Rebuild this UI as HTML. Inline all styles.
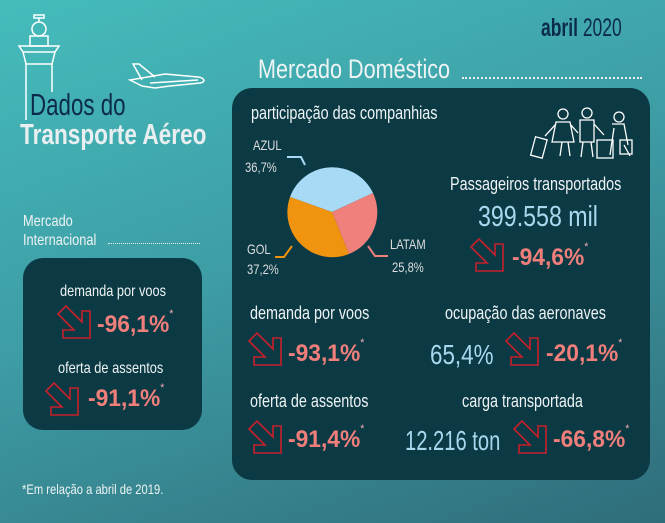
<!DOCTYPE html>
<html><head><meta charset="utf-8"><style>
*{margin:0;padding:0}
body{width:665px;height:523px;overflow:hidden;position:relative;background:linear-gradient(160deg,#45bcbb 0%,#3e9ea6 45%,#2f6d7a 100%);font-family:"Liberation Sans",sans-serif;color:#eef3f4}
.a{position:absolute;white-space:nowrap;line-height:1;transform:scaleX(0.8);transform-origin:0 0}
.box{position:absolute;background:#0b3944;border-radius:20px}
.pct{color:#f07f7b;font-weight:bold;font-size:24px;transform:scaleX(0.95)}
.pct sup{font-size:11px;font-weight:normal;color:#f5b0ae;vertical-align:top;position:relative;top:-4px}
.lb{font-size:18px}
.big{color:#a9d7ee;font-size:28px}
.dots{position:absolute;border-bottom:2px dotted #e8eef0;height:0}
</style></head><body>
<svg style="position:absolute;left:0;top:0" width="665" height="523">
<defs><path id="arr" d="M1,9 L9,1 L25,17 L25,6 L33,6 L33,33 L6,33 L6,25 L17,25 Z"/></defs>
<g fill="none" stroke="#fff" stroke-width="1.5">
<rect x="34" y="15" width="10" height="3"/><line x1="39" y1="18" x2="39" y2="22"/>
<circle cx="39" cy="29" r="7"/><rect x="30" y="36" width="18" height="10"/>
<path d="M19,46 H59 L55,52 H23 Z M23,52 L26,64 H52 L55,52"/>
<line x1="26" y1="64" x2="26" y2="120"/><line x1="52" y1="64" x2="52" y2="92"/>
<path d="M130,80 L165,74 L198,77 C205,78 206,82 200,83 L170,86 L155,88 L142,86 Z M142,80 L133,64 L139,64 L155,77"/>
<line x1="150" y1="83" x2="198" y2="80"/>
</g>
</svg>
<div class="box" style="left:232px;top:88px;width:418px;height:392px"></div>
<div class="box" style="left:23px;top:258px;width:179px;height:172px"></div>
<svg style="position:absolute;left:0;top:0" width="665" height="523">
<path d="M332,212 L290,197 A45,45 0 0 1 373,193 Z" fill="#a7daf4"/>
<path d="M332,212 L373,193 A45,45 0 0 1 349,254 Z" fill="#ef807c"/>
<path d="M332,212 L349,254 A45,45 0 0 1 290,197 Z" fill="#f0930f"/>
<path d="M287,157 H301 L305,165" fill="none" stroke="#a7daf4" stroke-width="2"/>
<path d="M275,257 H284 L292,246" fill="none" stroke="#f0930f" stroke-width="2"/>
<path d="M368,246 L375,256 H388" fill="none" stroke="#ef807c" stroke-width="2"/>
<g fill="none" stroke="#fff" stroke-width="1.3">
<circle cx="563" cy="114" r="5"/><path d="M556,122 L570,122 L574,142 L552,142 Z M562,142 L560,156 M568,142 L570,156 M556,124 L545,136 M570,124 L578,133"/>
<rect x="533" y="138" width="12" height="19" transform="rotate(15 539 147)"/>
<circle cx="587" cy="113" r="5"/><path d="M580,120 H594 V142 H580 Z M583,142 L581,157 M591,142 L593,157 M594,124 L604,135"/>
<circle cx="619" cy="117" r="5"/><path d="M612,124 L624,124 L628,145 M614,128 L610,155 M624,145 L630,156"/>
<rect x="597" y="140" width="16" height="18"/><rect x="620" y="140" width="12" height="14"/>
</g>
<g fill="none" stroke="#c8202a" stroke-width="1.6">
<use href="#arr" x="470" y="238"/><use href="#arr" x="248" y="332"/><use href="#arr" x="505" y="332"/>
<use href="#arr" x="248" y="420"/><use href="#arr" x="513" y="420"/><use href="#arr" x="57" y="305"/><use href="#arr" x="45" y="382"/>
</g>
</svg>
<div class="a" style="left:541px;top:16px;font-size:25px;color:#0c2b4a;transform:scaleX(0.7)"><b>abril</b> 2020</div>
<div class="a" style="left:258px;top:56px;font-size:27px">Mercado Doméstico</div>
<div class="dots" style="left:462px;top:77px;width:180px"></div>
<div class="a" style="left:30px;top:89px;font-size:31px;color:#0c2b4a;font-weight:300;transform:scaleX(0.72)">Dados do</div>
<div class="a" style="left:20px;top:121px;font-size:29px;font-weight:bold;color:#e9eef0;transform:scaleX(0.78)">Transporte Aéreo</div>
<div class="a" style="left:23px;top:212px;font-size:16px;line-height:19px">Mercado<br>Internacional</div>
<div class="dots" style="left:108px;top:243px;width:92px;border-bottom-width:1px"></div>
<div class="a" style="left:22px;top:482px;font-size:14px">*Em relação a abril de 2019.</div>

<div class="a lb" style="left:251px;top:104px">participação das companhias</div>
<div class="a" style="left:253px;top:138px;font-size:14px;color:#ddd">AZUL</div>
<div class="a" style="left:245px;top:160px;font-size:14px;color:#ddd">36,7%</div>
<div class="a" style="left:247px;top:242px;font-size:14px;color:#ddd">GOL</div>
<div class="a" style="left:247px;top:262px;font-size:14px;color:#ddd">37,2%</div>
<div class="a" style="left:390px;top:237px;font-size:14px;color:#ddd">LATAM</div>
<div class="a" style="left:392px;top:260px;font-size:14px;color:#ddd">25,8%</div>
<div class="a lb" style="left:450px;top:175px">Passageiros transportados</div>
<div class="a big" style="left:478px;top:203px;font-size:29px">399.558 mil</div>
<div class="a pct" style="left:512px;top:246px">-94,6%<sup>*</sup></div>

<div class="a lb" style="left:250px;top:304px">demanda por voos</div>
<div class="a pct" style="left:288px;top:342px">-93,1%<sup>*</sup></div>
<div class="a lb" style="left:445px;top:304px">ocupação das aeronaves</div>
<div class="a big" style="left:430px;top:341px">65,4%</div>
<div class="a pct" style="left:546px;top:342px">-20,1%<sup>*</sup></div>
<div class="a lb" style="left:250px;top:392px">oferta de assentos</div>
<div class="a pct" style="left:288px;top:428px">-91,4%<sup>*</sup></div>
<div class="a lb" style="left:462px;top:392px">carga transportada</div>
<div class="a big" style="left:405px;top:427px;transform:scaleX(0.72)">12.216 ton</div>
<div class="a pct" style="left:553px;top:428px">-66,8%<sup>*</sup></div>

<div class="a" style="left:60px;top:284px;font-size:16px">demanda por voos</div>
<div class="a pct" style="left:97px;top:313px">-96,1%<sup>*</sup></div>
<div class="a" style="left:58px;top:361px;font-size:16px">oferta de assentos</div>
<div class="a pct" style="left:88px;top:387px">-91,1%<sup>*</sup></div>
</body></html>
